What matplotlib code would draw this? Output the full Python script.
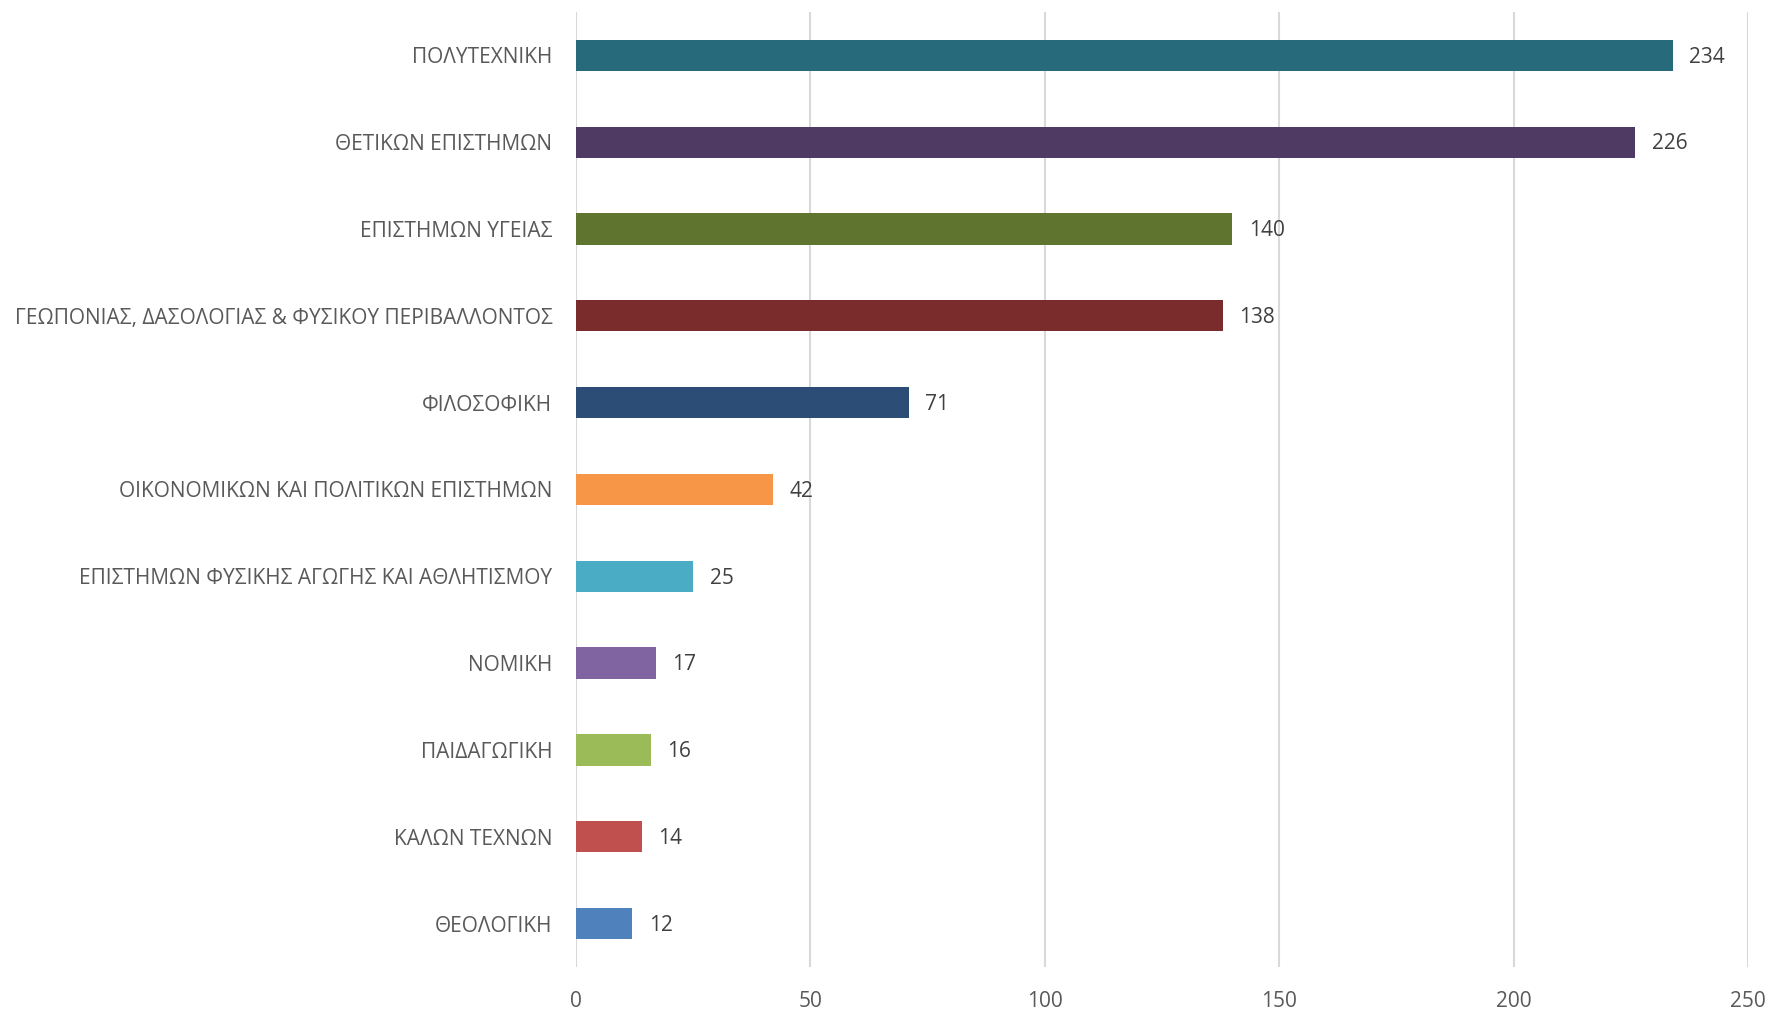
import matplotlib
matplotlib.use('Agg')
import matplotlib.pyplot as plt
import numpy as np

# Data (top to bottom as shown)
faculties = [
    'ΠΟΛΥΤΕΧΝΙΚΗ',
    'ΘΕΤΙΚΩΝ ΕΠΙΣΤΗΜΩΝ',
    'ΕΠΙΣΤΗΜΩΝ ΥΓΕΙΑΣ',
    'ΓΕΩΠΟΝΙΑΣ, ΔΑΣΟΛΟΓΙΑΣ & ΦΥΣΙΚΟΥ ΠΕΡΙΒΑΛΛΟΝΤΟΣ',
    'ΦΙΛΟΣΟΦΙΚΗ',
    'ΟΙΚΟΝΟΜΙΚΩΝ ΚΑΙ ΠΟΛΙΤΙΚΩΝ ΕΠΙΣΤΗΜΩΝ',
    'ΕΠΙΣΤΗΜΩΝ ΦΥΣΙΚΗΣ ΑΓΩΓΗΣ ΚΑΙ ΑΘΛΗΤΙΣΜΟΥ',
    'ΝΟΜΙΚΗ',
    'ΠΑΙΔΑΓΩΓΙΚΗ',
    'ΚΑΛΩΝ ΤΕΧΝΩΝ',
    'ΘΕΟΛΟΓΙΚΗ',
]
counts = [234, 226, 140, 138, 71, 42, 25, 17, 16, 14, 12]
colors = ['#276a7c', '#4e3a62', '#5f752f', '#7a2c2c', '#2c4d75', '#f79646',
          '#4bacc6', '#8064a2', '#9bbb59', '#c0504d', '#4f81bd']
xticks = [0, 50, 100, 150, 200, 250]

plt.rcParams['font.family'] = ['Open Sans', 'DejaVu Sans']

fig = plt.figure(figsize=(17.69, 10.10), dpi=100)
ax = fig.add_axes([0.3256, 0.0426, 0.6625, 0.9456])

y = np.arange(len(faculties))
ax.barh(y, counts, height=0.36, color=colors, zorder=3)
ax.set_ylim(len(faculties) - 0.5, -0.5)
ax.set_xlim(0, 250)

# value labels next to the bar ends
for yi, v in zip(y, counts):
    ax.text(v + 3.5, yi + 0.02, str(v), va='center', ha='left', fontsize=15, color='#404040')

ax.set_yticks(y)
ax.set_yticklabels(faculties, fontsize=15, color='#595959')
ax.set_xticks(xticks)
ax.set_xticklabels([str(t) for t in xticks], fontsize=15, color='#595959')
ax.tick_params(axis='both', length=0)
ax.tick_params(axis='y', pad=17)
ax.tick_params(axis='x', pad=17)

ax.grid(axis='x', color='#d9d9d9', linewidth=1.5, zorder=0)
for s in ax.spines.values():
    s.set_visible(False)

plt.savefig('out.png', dpi=100)
plt.close()
